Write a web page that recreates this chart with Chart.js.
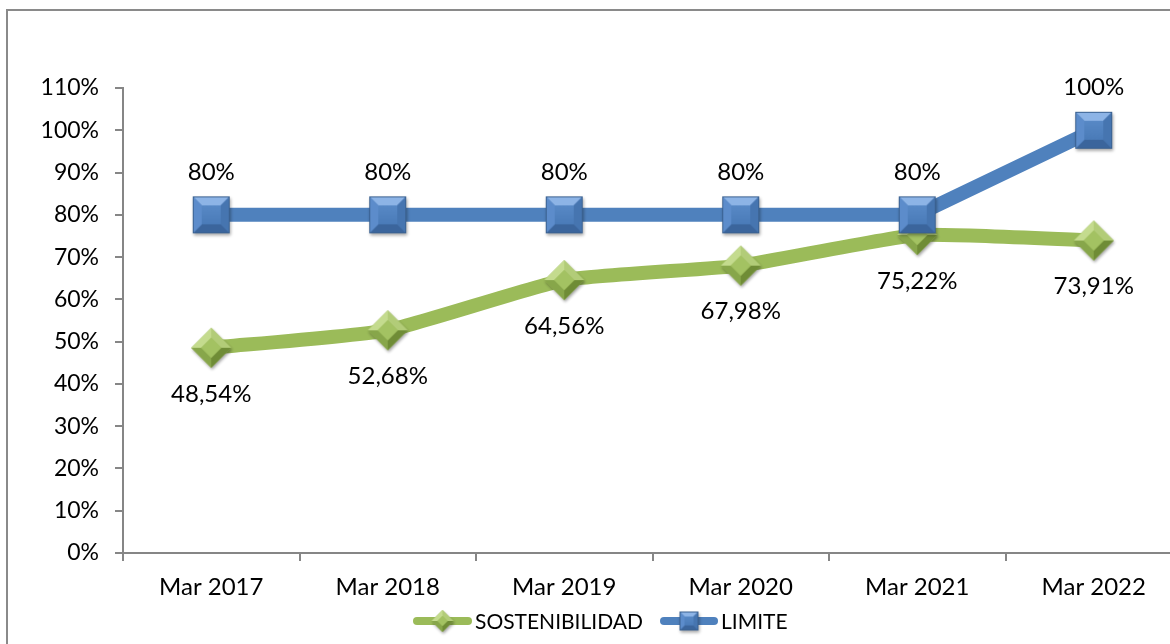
<!DOCTYPE html>
<html>
<head>
<meta charset="utf-8">
<script src="https://cdn.jsdelivr.net/npm/chart.js@4.4.1/dist/chart.umd.min.js"></script>
<style>
    html, body { margin: 0; padding: 0; background: #fff; width: 1170px; height: 644px; overflow: hidden; }
    #frame { position: absolute; left: 6px; top: 9px; width: 1200px; height: 700px; border: 2px solid #8a8a8a; box-sizing: border-box; }
    #wrap { position: absolute; left: 0; top: 0; width: 1200px; height: 644px; }
</style>
</head>
<body>
<div id="frame"></div>
<div id="wrap"><canvas id="chart" width="1200" height="644"></canvas></div>
<script>
// --- Data ---
const categories = ['Mar 2017', 'Mar 2018', 'Mar 2019', 'Mar 2020', 'Mar 2021', 'Mar 2022'];
const sostenibilidad = [48.54, 52.68, 64.56, 67.98, 75.22, 73.91];
const limite = [80, 80, 80, 80, 80, 100];
const yMin = 0;
const yMax = 110;
const yStep = 10;

const BLUE = '#4f81bd';
const GREEN = '#9bbb59';
const FONT = 'Lato, "Open Sans", sans-serif';

// --- Bevelled markers (Excel look) ---
function poly(g, pts, col) {
    g.beginPath();
    g.moveTo(pts[0][0], pts[0][1]);
    for (let k = 1; k < pts.length; k++) g.lineTo(pts[k][0], pts[k][1]);
    g.closePath();
    g.fillStyle = col;
    g.fill();
}

function makeSquare(size, bev) {
    const pad = 6;
    const c = document.createElement('canvas');
    c.width = c.height = size + pad * 2;
    const g = c.getContext('2d');
    const a = pad, b = pad + size, i = bev;
    g.save();
    g.shadowColor = 'rgba(0,0,0,0.35)';
    g.shadowBlur = 3;
    g.shadowOffsetX = 1;
    g.shadowOffsetY = 2;
    g.fillStyle = BLUE;
    g.fillRect(a, a, size, size);
    g.restore();
    poly(g, [[a, a], [b, a], [b - i, a + i], [a + i, a + i]], '#8db4e6');
    poly(g, [[b, a], [b, b], [b - i, b - i], [b - i, a + i]], '#4675b0');
    poly(g, [[a, b], [b, b], [b - i, b - i], [a + i, b - i]], '#3b659c');
    poly(g, [[a, a], [a + i, a + i], [a + i, b - i], [a, b]], '#5c8ccb');
    const grd = g.createLinearGradient(0, a + i, 0, b - i);
    grd.addColorStop(0, '#5889c6');
    grd.addColorStop(1, '#4a7bb8');
    g.fillStyle = grd;
    g.fillRect(a + i, a + i, size - 2 * i, size - 2 * i);
    g.strokeStyle = '#3a6190';
    g.lineWidth = 1;
    g.strokeRect(a + 0.5, a + 0.5, size - 1, size - 1);
    return c;
}

function makeDiamond(size, bev) {
    const pad = 6;
    const c = document.createElement('canvas');
    c.width = c.height = size + pad * 2;
    const g = c.getContext('2d');
    const cx = c.width / 2, cy = c.height / 2, r = size / 2, q = r - bev;
    const T = [cx, cy - r], R = [cx + r, cy], B = [cx, cy + r], L = [cx - r, cy];
    const t = [cx, cy - q], rr = [cx + q, cy], bb = [cx, cy + q], l = [cx - q, cy];
    g.save();
    g.shadowColor = 'rgba(0,0,0,0.35)';
    g.shadowBlur = 3;
    g.shadowOffsetX = 1;
    g.shadowOffsetY = 2;
    poly(g, [T, R, B, L], GREEN);
    g.restore();
    poly(g, [T, t, l, L], '#c4db8e');
    poly(g, [T, R, rr, t], '#b2cc78');
    poly(g, [R, B, bb, rr], '#6f8c36');
    poly(g, [B, L, l, bb], '#87a64a');
    poly(g, [t, rr, bb, l], '#a3c262');
    return c;
}

const squareBig = makeSquare(37, 9);
const diamondBig = makeDiamond(40, 10);
const squareSmall = makeSquare(19, 5);
const diamondSmall = makeDiamond(22, 6);

// --- Value labels ---
const labelPlugin = {
    id: 'valueLabels',
    afterDatasetsDraw(chart) {
        const ctx = chart.ctx;
        ctx.save();
        ctx.font = '24px ' + FONT;
        ctx.fillStyle = '#000';
        ctx.textAlign = 'center';
        ctx.textBaseline = 'middle';
        chart.data.datasets.forEach((ds, di) => {
            const meta = chart.getDatasetMeta(di);
            meta.data.forEach((pt, i) => {
                const v = ds.data[i];
                const txt = (Number.isInteger(v) ? String(v) : v.toFixed(2).replace('.', ',')) + '%';
                const dy = ds.labelPos === 'above' ? -43 : 46;
                ctx.fillText(txt, pt.x, pt.y + dy);
            });
        });
        ctx.restore();
    }
};

// --- Custom legend: line + marker + text ---
const legendPlugin = {
    id: 'lineLegend',
    afterDraw(chart) {
        const ctx = chart.ctx;
        const y = 621;
        const items = [
            { x: 413, w: 59, color: GREEN, img: diamondSmall, text: chart.data.datasets[1].label },
            { x: 660, w: 58, color: BLUE, img: squareSmall, text: chart.data.datasets[0].label }
        ];
        ctx.save();
        items.forEach(it => {
            ctx.strokeStyle = it.color;
            ctx.lineWidth = 8;
            ctx.lineCap = 'round';
            ctx.beginPath();
            ctx.moveTo(it.x + 4, y);
            ctx.lineTo(it.x + it.w - 4, y);
            ctx.stroke();
            ctx.drawImage(it.img, it.x + it.w / 2 - it.img.width / 2, y - it.img.height / 2);
            ctx.font = '21px ' + FONT;
            ctx.fillStyle = '#000';
            ctx.textAlign = 'left';
            ctx.textBaseline = 'middle';
            ctx.fillText(it.text, it.x + it.w + 3, y + 1);
        });
        ctx.restore();
    }
};

new Chart(document.getElementById('chart'), {
    type: 'line',
    data: {
        labels: categories,
        datasets: [
            {
                label: 'LIMITE',
                data: limite,
                borderColor: BLUE,
                backgroundColor: BLUE,
                borderWidth: 14,
                pointStyle: squareBig,
                tension: 0,
                order: 0,
                labelPos: 'above'
            },
            {
                label: 'SOSTENIBILIDAD',
                data: sostenibilidad,
                borderColor: GREEN,
                backgroundColor: GREEN,
                borderWidth: 14,
                pointStyle: diamondBig,
                tension: 0.15,
                order: 1,
                labelPos: 'below'
            }
        ]
    },
    options: {
        responsive: false,
        animation: false,
        layout: { padding: { left: 0, top: 88, right: 15, bottom: 0 } },
        plugins: {
            legend: { display: false },
            tooltip: { enabled: false }
        },
        scales: {
            x: {
                offset: true,
                grid: { offset: true, drawOnChartArea: false, tickLength: 8, color: '#868686', lineWidth: 2 },
                border: { color: '#868686', width: 2 },
                ticks: { color: '#000', font: { family: FONT, size: 24 }, padding: 12, maxRotation: 0 },
                afterFit(scale) { scale.height = 91; }
            },
            y: {
                min: yMin,
                max: yMax,
                grid: { drawOnChartArea: false, tickLength: 8, color: '#868686', lineWidth: 2 },
                border: { color: '#868686', width: 2 },
                ticks: {
                    stepSize: yStep,
                    color: '#000',
                    font: { family: FONT, size: 23 },
                    padding: 16,
                    callback: v => v + '%'
                },
                afterFit(scale) { scale.width = 123; }
            }
        }
    },
    plugins: [labelPlugin, legendPlugin]
});
</script>
</body>
</html>
